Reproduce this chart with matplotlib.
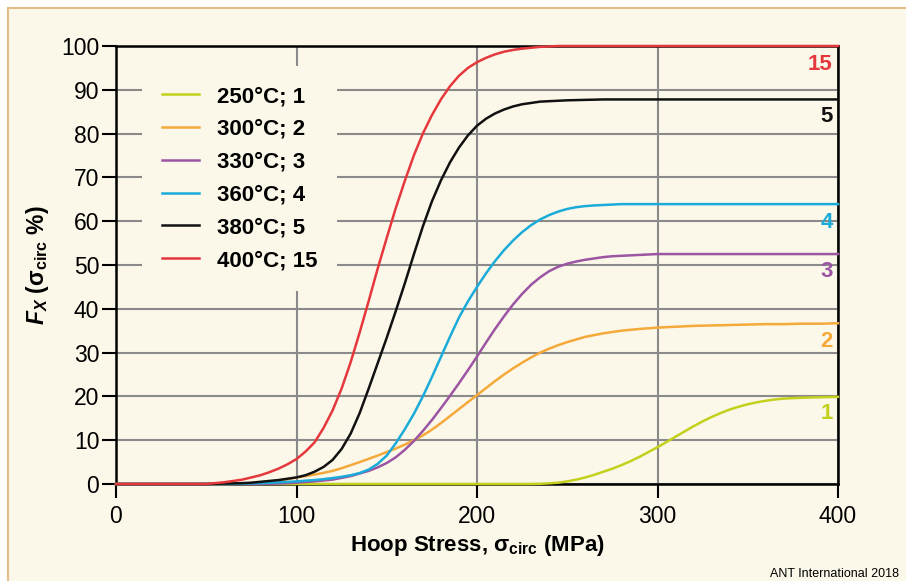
import matplotlib
matplotlib.use('Agg')
import matplotlib.pyplot as plt
from matplotlib.patches import Rectangle

plt.rcParams['font.family'] = ['Liberation Sans', 'DejaVu Sans']
plt.rcParams['mathtext.fontset'] = 'custom'
plt.rcParams['mathtext.rm'] = 'Liberation Sans'
plt.rcParams['mathtext.it'] = 'Liberation Sans:italic'
plt.rcParams['mathtext.bf'] = 'Liberation Sans:bold'
plt.rcParams['mathtext.bfit'] = 'Liberation Sans:bold:italic'

# Hoop stress (MPa), 5 MPa steps, and fraction of radial hydrides F_X (%) per test
stress = list(range(0, 405, 5))

f_250 = [0] * 47 + [0.05, 0.15, 0.3, 0.6, 1.0, 1.5, 2.1, 2.8, 3.5, 4.3, 5.2, 6.2,
                    7.3, 8.4, 9.6, 10.8, 12.0, 13.2, 14.3, 15.3, 16.2, 17.0,
                    17.65, 18.2, 18.65, 19.0, 19.3, 19.5, 19.6, 19.7, 19.75,
                    19.8, 19.85, 19.9]
f_300 = [0] * 13 + [0.05, 0.1, 0.2, 0.3, 0.5, 0.8, 1.1, 1.5, 1.8, 2.15, 2.55,
                    3.0, 3.6, 4.3, 5.0, 5.75, 6.5, 7.3, 8.1, 9.0, 10.0, 11.1,
                    12.4, 13.9, 15.5, 17.1, 18.7, 20.3, 21.9, 23.5, 25.0, 26.4,
                    27.7, 28.9, 30.0, 30.9, 31.7, 32.4, 33.0, 33.6, 34.0, 34.4,
                    34.7, 35.0, 35.2, 35.4, 35.55, 35.7, 35.8, 35.9, 36.0, 36.1,
                    36.15, 36.2, 36.25, 36.3, 36.35, 36.4, 36.45, 36.5, 36.5,
                    36.5, 36.55, 36.6, 36.6, 36.6, 36.65, 36.7]
f_330 = [0] * 17 + [0.05, 0.1, 0.2, 0.3, 0.45, 0.6, 0.8, 1.0, 1.4, 1.8, 2.4,
                    3.0, 3.8, 4.8, 6.1, 7.8, 9.8, 12.1, 14.6, 17.3, 20.1, 23.0,
                    26.0, 29.1, 32.3, 35.4, 38.3, 41.0, 43.4, 45.5, 47.2, 48.6,
                    49.6, 50.3, 50.8, 51.2, 51.5, 51.8, 52.0, 52.1, 52.2, 52.3,
                    52.4] + [52.5] * 21
f_360 = [0] * 13 + [0.03, 0.08, 0.14, 0.2, 0.28, 0.38, 0.48, 0.6, 0.75, 0.9,
                    1.1, 1.35, 1.65, 2.0, 2.5, 3.3, 4.6, 6.5, 9.3, 12.5, 16.0,
                    20.0, 24.4, 29.0, 33.6, 38.0, 41.7, 45.0, 48.1, 50.9, 53.4,
                    55.6, 57.5, 59.1, 60.4, 61.4, 62.2, 62.8, 63.2, 63.45, 63.6,
                    63.7, 63.8] + [63.9] * 25
f_380 = [0] * 11 + [0.05, 0.1, 0.15, 0.2, 0.3, 0.5, 0.7, 0.9, 1.2, 1.5, 2.0,
                    2.8, 3.9, 5.5, 8.0, 11.5, 16.2, 21.8, 27.6, 33.4, 39.5, 45.8,
                    52.4, 58.8, 64.5, 69.3, 73.4, 76.8, 79.6, 81.8, 83.4, 84.6,
                    85.5, 86.2, 86.7, 87.0, 87.3, 87.4, 87.5, 87.6, 87.65, 87.7,
                    87.75] + [87.8] * 27
f_400 = [0] * 11 + [0.2, 0.4, 0.7, 1.0, 1.5, 2.0, 2.7, 3.5, 4.5, 5.7, 7.4, 9.5,
                    12.8, 16.8, 21.8, 27.8, 34.6, 41.8, 49.2, 56.2, 63.0, 69.2,
                    75.0, 80.0, 84.2, 87.8, 90.8, 93.2, 95.0, 96.3, 97.3, 98.1,
                    98.7, 99.1, 99.4, 99.6, 99.8, 99.9] + [100] * 32

series = [f_250, f_300, f_330, f_360, f_380, f_400]
labels = ['250°C; 1', '300°C; 2', '330°C; 3', '360°C; 4', '380°C; 5', '400°C; 15']
end_labels = ['1', '2', '3', '4', '5', '15']
end_label_y = [16.2, 32.6, 48.6, 59.6, 83.8, 95.7]
colors = ['#c3d01c', '#f4a93a', '#9b55a3', '#1aabd9', '#111111', '#e5383d']

cream = '#fcf8e9'

fig = plt.figure(figsize=(9.06, 5.81), dpi=100, facecolor='white')
# cream panel with thin tan border
fig.add_artist(Rectangle((8 / 906, -0.1), 1.2, 1.1 - 8 / 581, transform=fig.transFigure,
                         facecolor=cream, edgecolor='#e2bd86', lw=1.5, zorder=-1))

ax = fig.add_axes([116 / 906, 97 / 581, 722 / 906, 438 / 581])
ax.set_facecolor(cream)

for y, lab, c in zip(series, labels, colors):
    ax.plot(stress, y, color=c, lw=1.8, label=lab, clip_on=False, zorder=3)

for lab, yy, c in zip(end_labels, end_label_y, colors):
    ax.text(397, yy, lab, color=c, ha='right', va='center', fontsize=16,
            fontweight='bold', zorder=4)

ax.set_xlim(0, 400)
ax.set_ylim(0, 100)
ax.set_xticks([0, 100, 200, 300, 400])
ax.set_yticks(range(0, 101, 10))
ax.grid(True, color='#8a8a8a', lw=1.5, zorder=1)
ax.set_axisbelow(True)
for s in ax.spines.values():
    s.set_linewidth(1.8)
    s.set_color('black')
ax.tick_params(axis='both', direction='out', length=10, width=1.5, labelsize=16.5)
ax.tick_params(axis='y', pad=2)
ax.tick_params(axis='x', pad=5)

ax.set_xlabel('Hoop Stress, σ$_{\\mathbf{circ}}$ (MPa)', fontsize=16, fontweight='bold')
ax.xaxis.set_label_coords(0.5, -0.112)
ax.set_ylabel('$\\mathbfit{F}_{\\mathbfit{X}}$ (σ$_{\\mathbf{circ}}$ %)', fontsize=16.5,
              fontweight='bold')
ax.yaxis.set_label_coords(-0.09, 0.5)

leg = ax.legend(loc='upper left', bbox_to_anchor=(0.036, 0.954), borderaxespad=0,
                prop={'weight': 'bold', 'size': 16}, frameon=True, fancybox=False,
                facecolor=cream, edgecolor='none', framealpha=1,
                handlelength=1.67, handletextpad=0.8, labelspacing=0.53, borderpad=0.9)
leg.set_zorder(5)

fig.text(770 / 906, 4 / 581, 'ANT International 2018', fontsize=9, va='baseline')

fig.savefig('out.png', dpi=100, facecolor=fig.get_facecolor())
